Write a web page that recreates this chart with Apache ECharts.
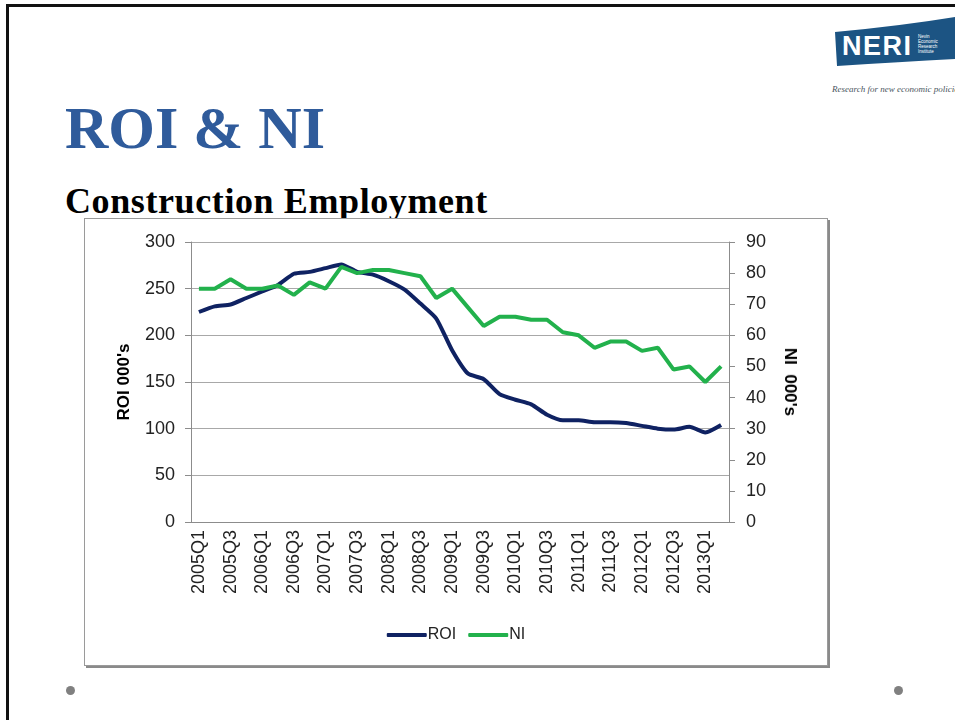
<!DOCTYPE html>
<html>
<head>
<meta charset="utf-8">
<script src="https://cdn.jsdelivr.net/npm/echarts@6/dist/echarts.min.js"></script>
<style>
  html, body { margin: 0; padding: 0; width: 955px; height: 720px; overflow: hidden; background: #fff; }
  .frame { position: absolute; left: 6px; top: 4px; width: 960px; height: 730px; border-left: 3px solid #111; border-top: 3px solid #111; }
  .title { position: absolute; left: 65px; top: 98px; font: bold 60px/60px "Liberation Serif", serif; color: #2f5b9b; white-space: nowrap; }
  .subtitle { position: absolute; left: 65px; top: 183px; font: bold 36px/36px "Liberation Serif", serif; letter-spacing: 0.6px; color: #000; white-space: nowrap; }
  .box { position: absolute; left: 84px; top: 218px; width: 742px; height: 446px; border: 1px solid #9a9a9a; box-shadow: 2px 2px 0 #8a8a8a; background: #fff; }
  #chart { width: 742px; height: 446px; }
  .dot { position: absolute; width: 9px; height: 9px; border-radius: 50%; background: #808080; }
  .logo { position: absolute; left: 0; top: 0; }
  .tag { position: absolute; left: 832px; top: 84px; font: italic 9px/10px "Liberation Serif", serif; color: #4a5560; white-space: nowrap; }
  .rname { position: absolute; left: 790px; top: 382px; transform: translate(-50%, -50%) rotate(90deg); font: bold 17px/20px "Liberation Sans", sans-serif; color: #000; white-space: pre; }
</style>
</head>
<body>
<div class="frame"></div>
<svg class="logo" width="955" height="80">
  <path d="M835,32 Q900,26 955,17 L955,59 Q900,62 837,66 Z" fill="#1c5483"/>
  <text x="842" y="55" fill="#fff" font-family="Liberation Sans, Arial, sans-serif" font-weight="bold" font-size="27" letter-spacing="1.5">NERI</text>
  <text x="918" y="38" fill="#fff" font-family="Liberation Sans, Arial, sans-serif" font-size="4.5">Nevin</text>
  <text x="918" y="43" fill="#fff" font-family="Liberation Sans, Arial, sans-serif" font-size="4.5">Economic</text>
  <text x="918" y="48" fill="#fff" font-family="Liberation Sans, Arial, sans-serif" font-size="4.5">Research</text>
  <text x="918" y="53" fill="#fff" font-family="Liberation Sans, Arial, sans-serif" font-size="4.5">Institute</text>
</svg>
<div class="tag">Research for new economic policies</div>
<div class="title">ROI &amp; NI</div>
<div class="subtitle">Construction Employment</div>
<div class="box"><div id="chart"></div></div>
<div class="rname">NI  000's</div>
<div class="dot" style="left:66px; top:686px;"></div>
<div class="dot" style="left:894px; top:686px;"></div>
<script>
// quarters 2005Q1 - 2013Q2
var quarters = ['2005Q1', '2005Q2', '2005Q3', '2005Q4', '2006Q1', '2006Q2', '2006Q3', '2006Q4',
  '2007Q1', '2007Q2', '2007Q3', '2007Q4', '2008Q1', '2008Q2', '2008Q3', '2008Q4',
  '2009Q1', '2009Q2', '2009Q3', '2009Q4', '2010Q1', '2010Q2', '2010Q3', '2010Q4',
  '2011Q1', '2011Q2', '2011Q3', '2011Q4', '2012Q1', '2012Q2', '2012Q3', '2012Q4',
  '2013Q1', '2013Q2']
// construction employment, 000's
var roi = [225, 231, 233, 240, 247, 254, 266, 268, 272, 276, 268, 265, 258, 249, 234, 218,
  184, 159, 153, 137, 131, 126, 115, 109, 109, 107, 107, 106, 103, 100, 99, 102, 96, 104]
var ni = [75, 75, 78, 75, 75, 76, 73, 77, 75, 82, 80, 81, 81, 80, 79, 72,
  75, 69, 63, 66, 66, 65, 65, 61, 60, 56, 58, 58, 55, 56, 49, 50, 45, 50]
var roiTicks = [0, 300, 50] // min, max, step
var niTicks = [0, 90, 10]

var chart = echarts.init(document.getElementById('chart'))
var axisFont = { fontFamily: 'Liberation Sans', fontSize: 18, color: '#222' }
var option = {
  animation: false,
  color: ['#0f2262', '#22b14c'],
  grid: { left: 106, top: 23, width: 538, height: 280 },
  legend: {
    bottom: 17,
    left: 'center',
    itemWidth: 40,
    itemHeight: 4,
    itemGap: 12,
    icon: 'roundRect',
    textStyle: { fontFamily: 'Liberation Sans', fontSize: 16, color: '#222', padding: [0, 0, 0, -4] },
    data: ['ROI', 'NI']
  },
  xAxis: {
    type: 'category',
    data: quarters,
    boundaryGap: true,
    axisLine: { lineStyle: { color: '#8c8c8c' } },
    axisTick: { interval: 0, length: 5, lineStyle: { color: '#8c8c8c' } },
    axisLabel: Object.assign({ interval: 1, rotate: 90, margin: 8 }, axisFont)
  },
  yAxis: [
    {
      type: 'value',
      min: roiTicks[0], max: roiTicks[1], interval: roiTicks[2],
      name: "ROI 000's",
      nameLocation: 'middle',
      nameGap: 58,
      nameRotate: 90,
      nameTextStyle: { fontFamily: 'Liberation Sans', fontSize: 17, fontWeight: 'bold', color: '#000' },
      axisLine: { show: true, lineStyle: { color: '#8c8c8c' } },
      axisTick: { show: true, length: 6, lineStyle: { color: '#8c8c8c' } },
      axisLabel: Object.assign({ margin: 16 }, axisFont),
      splitLine: { lineStyle: { color: '#a8a8a8' } }
    },
    {
      type: 'value',
      position: 'right',
      min: niTicks[0], max: niTicks[1], interval: niTicks[2],
      axisLine: { show: true, lineStyle: { color: '#8c8c8c' } },
      axisTick: { show: true, length: 6, lineStyle: { color: '#8c8c8c' } },
      axisLabel: Object.assign({ margin: 17 }, axisFont),
      splitLine: { show: false }
    }
  ],
  series: [
    { name: 'ROI', type: 'line', yAxisIndex: 0, data: roi, symbol: 'none', smooth: 0.2, lineStyle: { width: 4 } },
    { name: 'NI', type: 'line', yAxisIndex: 1, data: ni, symbol: 'none', lineStyle: { width: 4 } }
  ]
}
chart.setOption(option)
</script>
</body>
</html>
